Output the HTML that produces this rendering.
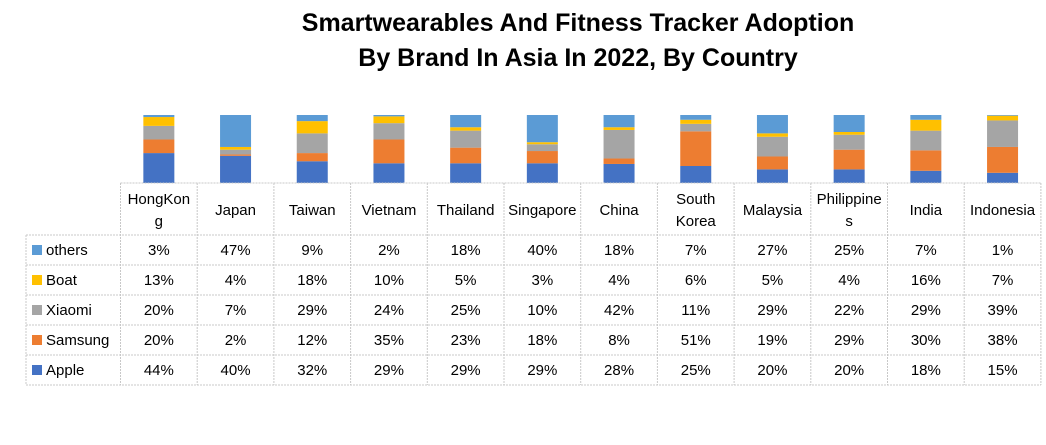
<!DOCTYPE html>
<html><head><meta charset="utf-8"><style>
body{margin:0;background:#fff;}
svg{display:block;font-family:"Liberation Sans",sans-serif;}
</style></head><body>
<svg id="chart" width="1046" height="445">
<text x="578" y="31" text-anchor="middle" font-size="25" font-weight="bold" fill="#000">Smartwearables And Fitness Tracker Adoption</text>
<text x="578" y="66" text-anchor="middle" font-size="25" font-weight="bold" fill="#000">By Brand In Asia In 2022, By Country</text>
<g id="bars"></g><g id="table"></g>
</svg>
<script>
const categories=["HongKong","Japan","Taiwan","Vietnam","Thailand","Singapore","China","South Korea","Malaysia","Philippines","India","Indonesia"];
const catLines=[["HongKon","g"],["Japan"],["Taiwan"],["Vietnam"],["Thailand"],["Singapore"],["China"],["South","Korea"],["Malaysia"],["Philippine","s"],["India"],["Indonesia"]];
const seriesNames=["others","Boat","Xiaomi","Samsung","Apple"];
const others=[3,47,9,2,18,40,18,7,27,25,7,1];
const boat=[13,4,18,10,5,3,4,6,5,4,16,7];
const xiaomi=[20,7,29,24,25,10,42,11,29,22,29,39];
const samsung=[20,2,12,35,23,18,8,51,19,29,30,38];
const apple=[44,40,32,29,29,29,28,25,20,20,18,15];
const colors={others:"#5B9BD5",Boat:"#FFC000",Xiaomi:"#A5A5A5",Samsung:"#ED7D31",Apple:"#4472C4"};
const seriesData={others,Boat:boat,Xiaomi:xiaomi,Samsung:samsung,Apple:apple};
const NS="http://www.w3.org/2000/svg";
const x0=120.5,colW=76.7,barTop=115,barBot=183,barW=31;
const tableLeft=26,headTop=183,headBot=235,rowH=30;
const xCenter=i=>x0+colW*i+colW/2;
const yScale=f=>barBot-(barBot-barTop)*f;
function mk(tag,attrs,parent){const e=document.createElementNS(NS,tag);for(const k in attrs)e.setAttribute(k,attrs[k]);parent.appendChild(e);return e;}
const gb=document.getElementById('bars');
const stackOrder=["Apple","Samsung","Xiaomi","Boat","others"];
categories.forEach((c,i)=>{
  let tot=0;stackOrder.forEach(s=>tot+=seriesData[s][i]);
  let cum=0;
  stackOrder.forEach(s=>{
    const v=seriesData[s][i];
    const y1=yScale(cum/tot),y2=yScale((cum+v)/tot);cum+=v;
    const r=mk('rect',{x:xCenter(i)-barW/2,y:y2,width:barW,height:Math.max(0,y1-y2),fill:colors[s]},gb);
    
    
  });
});
const gt=document.getElementById('table');
const ln={stroke:"#c8c8c8","stroke-width":1,"stroke-dasharray":"2,1"};
const xEnd=x0+colW*categories.length;
const tBot=headBot+rowH*seriesNames.length;
mk('line',Object.assign({x1:x0,x2:xEnd,y1:headTop,y2:headTop},ln),gt);
for(let r=0;r<=seriesNames.length;r++){const y=headBot+rowH*r;mk('line',Object.assign({x1:tableLeft,x2:xEnd,y1:y,y2:y},ln),gt);}
for(let c=0;c<=categories.length;c++){const x=x0+colW*c;mk('line',Object.assign({x1:x,x2:x,y1:headTop,y2:tBot},ln),gt);}
mk('line',Object.assign({x1:tableLeft,x2:tableLeft,y1:headBot,y2:tBot},ln),gt);
categories.forEach((c,i)=>{
  const lines=catLines[i];
  const t=mk('text',{x:xCenter(i),"text-anchor":"middle","font-size":15,fill:"#000"},gt);
  
  
  const startY=lines.length===1?215:204;
  lines.forEach((l,k)=>{const s=mk('tspan',{x:xCenter(i),y:startY+k*22},t);s.textContent=l;});
});
seriesNames.forEach((s,r)=>{
  const yc=headBot+rowH*r+rowH/2;
  const sw=mk('rect',{x:32,y:yc-5,width:10,height:10,fill:colors[s]},gt);
  
  
  const lt=mk('text',{x:46,y:yc+5,"font-size":15,fill:"#000"},gt);lt.textContent=s;
  
  
  seriesData[s].forEach((v,i)=>{
    const t=mk('text',{x:xCenter(i),y:yc+5,"text-anchor":"middle","font-size":15,fill:"#000"},gt);
    t.textContent=v+"%";
    
    
  });
});
</script>
</body></html>
